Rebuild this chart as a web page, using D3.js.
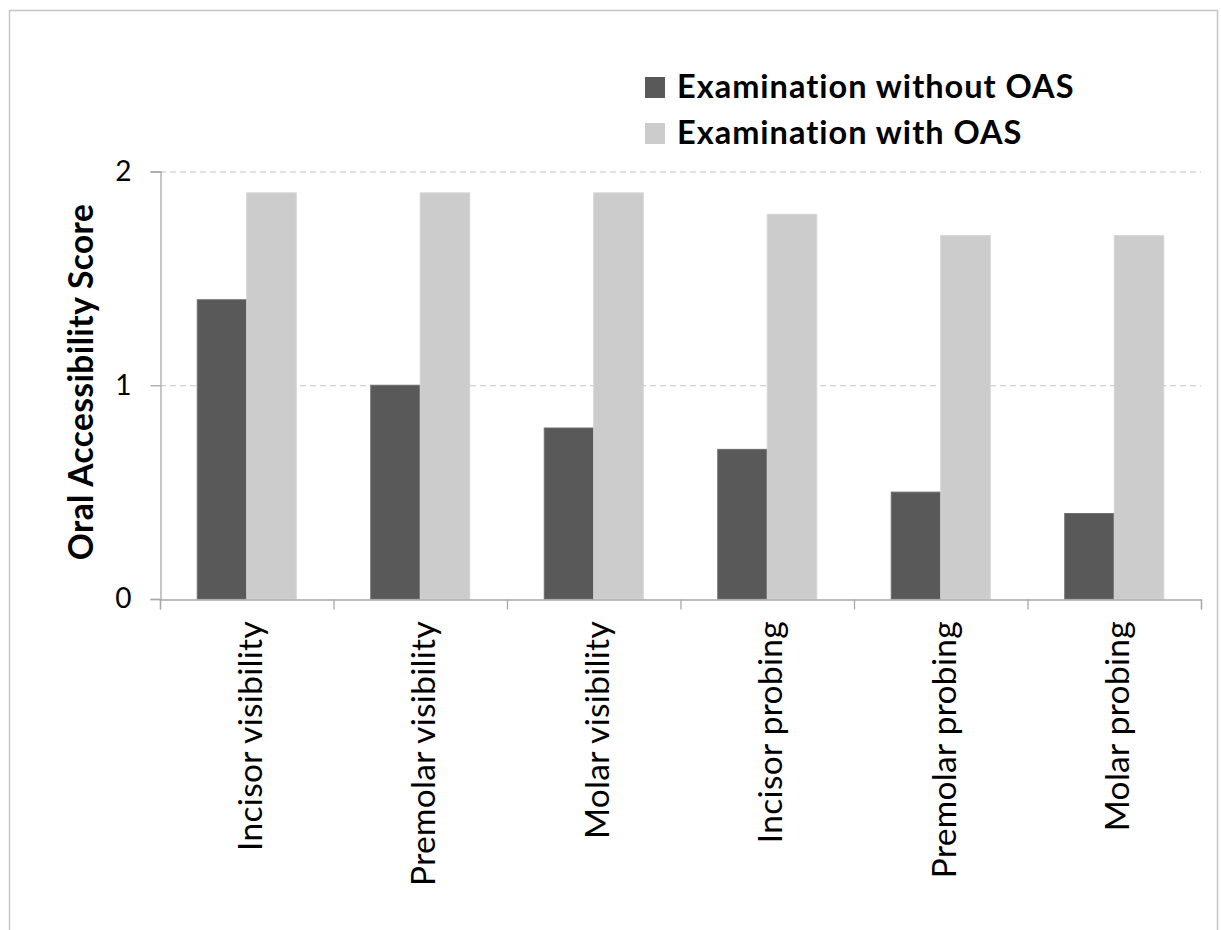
<!DOCTYPE html>
<html>
<head>
<meta charset="utf-8">
<script src="https://cdn.jsdelivr.net/npm/d3@7"></script>
<style>
  html, body { margin: 0; padding: 0; background: #fff; }
  svg { display: block; }
  text { font-family: Lato, "Open Sans", sans-serif; fill: #000; font-variant-ligatures: none; font-feature-settings: "liga" 0; }
</style>
</head>
<body>
<svg id="chart" width="1221" height="930"></svg>
<script>
const categories = ["Incisor visibility", "Premolar visibility", "Molar visibility",
                    "Incisor probing", "Premolar probing", "Molar probing"];
const seriesNames = ["Examination without OAS", "Examination with OAS"];
const withoutOAS = [1.4, 1.0, 0.8, 0.7, 0.5, 0.4];
const withOAS = [1.9, 1.9, 1.9, 1.8, 1.7, 1.7];
const yTicks = [0, 1, 2];
const yTitle = "Oral Accessibility Score";
const colors = ["#595959", "#cccccc"];
const strokes = ["#6e6e6e", "#d4d4d4"];

const svg = d3.select("#chart");
const plot = { left: 160, right: 1201, top: 171.5, bottom: 599 };

// outer border
svg.append("rect")
  .attr("x", 9.5).attr("y", 10.5)
  .attr("width", 1208).attr("height", 940)
  .attr("fill", "none").attr("stroke", "#c6c6c6").attr("stroke-width", 1.5);

const y = d3.scaleLinear().domain([0, 2]).range([plot.bottom, plot.top]);
const x0 = d3.scaleBand().domain(categories).range([plot.left, plot.right]).padding(0);
const x1 = d3.scaleBand().domain(seriesNames).range([0, x0.bandwidth()])
  .paddingInner(0).paddingOuter(0.7525);
const xEdge = d3.scaleLinear().domain([0, categories.length]).range([plot.left, plot.right]);

// gridlines
svg.append("g").selectAll("line").data(yTicks.filter(d => d > 0)).join("line")
  .attr("x1", plot.left).attr("x2", plot.right)
  .attr("y1", d => y(d) + 0.5).attr("y2", d => y(d) + 0.5)
  .attr("stroke", "#c4c4c4").attr("stroke-width", 1.2)
  .attr("stroke-dasharray", "6,4");

// bars
const data = categories.map((c, i) => ({ c, vals: [withoutOAS[i], withOAS[i]] }));
const groups = svg.append("g").selectAll("g").data(data).join("g")
  .attr("transform", d => `translate(${x0(d.c)},0)`);
groups.selectAll("rect").data(d => d.vals.map((v, k) => ({ v, k, s: seriesNames[k] }))).join("rect")
  .attr("x", d => x1(d.s))
  .attr("width", x1.bandwidth())
  .attr("y", d => y(d.v))
  .attr("height", d => y(0) - y(d.v))
  .attr("fill", d => colors[d.k])
  .attr("stroke", d => strokes[d.k]).attr("stroke-width", 1);

// y axis
const yAxis = svg.append("g").attr("transform", `translate(${plot.left + 0.5},0)`)
  .call(d3.axisLeft(y).tickValues(yTicks).tickFormat(d3.format("d")).tickSize(10).tickPadding(19));
yAxis.select(".domain").attr("stroke", "#a8a8a8").attr("stroke-width", 1.3);
yAxis.selectAll(".tick line").attr("stroke", "#a8a8a8").attr("stroke-width", 1.3);
yAxis.selectAll(".tick text").attr("font-size", 28).attr("font-family", "Lato, sans-serif").attr("fill", "#000");

// x axis
const xAxis = svg.append("g").attr("transform", `translate(0,${plot.bottom + 0.5})`)
  .call(d3.axisBottom(xEdge).tickValues(d3.range(categories.length + 1)).tickSize(10).tickFormat(""));
xAxis.select(".domain").attr("stroke", "#a8a8a8").attr("stroke-width", 1.3);
xAxis.selectAll(".tick line").attr("stroke", "#a8a8a8").attr("stroke-width", 1.3);

// category labels
svg.append("g").selectAll("text").data(categories).join("text")
  .attr("transform", d => `translate(${x0(d) + x0.bandwidth() / 2 + 15},${plot.bottom + 22}) rotate(-90)`)
  .attr("text-anchor", "end")
  .attr("font-size", 33.5)
  .attr("letter-spacing", 0.3)
  .text(d => d);

// y title
svg.append("text")
  .attr("transform", `translate(93,382) rotate(-90)`)
  .attr("text-anchor", "middle")
  .attr("font-size", 33.5)
  .attr("font-weight", "bold")
  .attr("letter-spacing", 0.4)
  .text(yTitle);

// legend
const legend = svg.append("g").selectAll("g").data(seriesNames).join("g")
  .attr("transform", (d, i) => `translate(645,${77 + i * 46})`);
legend.append("rect").attr("width", 20).attr("height", 21)
  .attr("fill", (d, i) => colors[i]);
legend.append("text").attr("x", 32).attr("y", 21)
  .attr("font-size", 32.5).attr("font-weight", "bold")
  .attr("letter-spacing", 1.0)
  .text(d => d);
</script>
</body>
</html>
